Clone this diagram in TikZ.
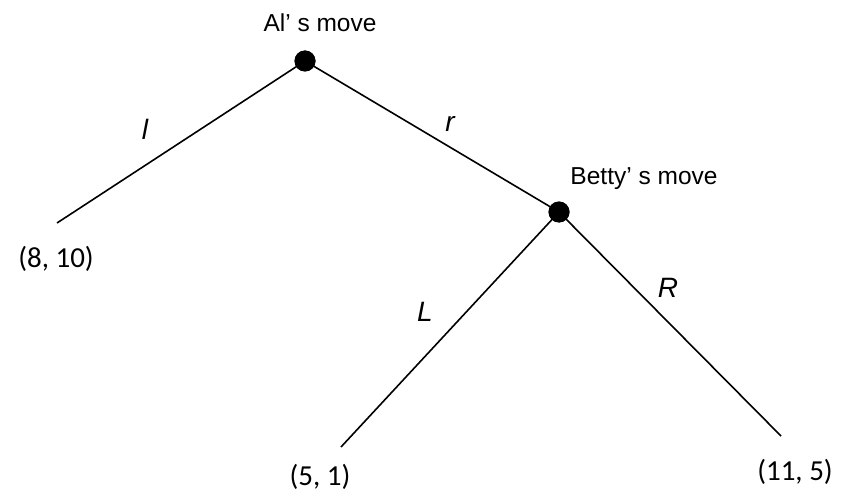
\documentclass[tikz,border=0pt]{standalone}
\usepackage{fontspec}
\setmainfont{Liberation Sans}
\newfontfamily\payfont{Carlito}
\begin{document}
\begin{tikzpicture}[x=1pt,y=-1pt,
  decision/.style={circle,fill=black,inner sep=0pt,minimum size=21pt},
  leaf/.style={coordinate},
  branch/.style={line width=1.6pt,black},
  movelabel/.style={anchor=base,inner sep=0pt,font=\fontsize{24.5}{28}\selectfont},
  actlabel/.style={inner sep=0pt,font=\fontsize{28}{32}\selectfont\itshape},
  payoff/.style={anchor=base,inner sep=0pt,font=\payfont\fontsize{29}{34}\selectfont}]
\useasboundingbox (0,0) rectangle (849,492);
\node[decision] (al) at (305,61) {};
\node[decision] (betty) at (559,212) {};
\coordinate (e1) at (57,223);
\coordinate (e2) at (341,447);
\coordinate (e3) at (781,436);
\draw[branch] (al.center) -- (e1);
\draw[branch] (al.center) -- (betty.center);
\draw[branch] (betty.center) -- (e2);
\draw[branch] (betty.center) -- (e3);
\node[decision] at (al.center) {};
\node[decision] at (betty.center) {};
\node[movelabel] (altext) at (320,32) {Al’ s move};
\node[movelabel] (bettytext) at (644,184) {Betty’ s move};
\node[actlabel] (l) at (145,129) {l};
\node[actlabel] (r) at (450,124) {r};
\node[actlabel] (L) at (425,312) {L};
\node[actlabel] (R) at (668,288) {R};
\node[payoff] (p1) at (56,267) {(8, 10)};
\node[payoff] (p2) at (320,485) {(5, 1)};
\node[payoff] (p3) at (795,480) {(11, 5)};
\end{tikzpicture}
\end{document}
